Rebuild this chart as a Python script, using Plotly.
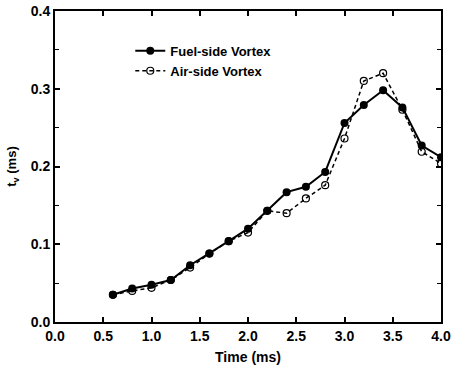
import plotly.graph_objects as go

time = [0.6, 0.8, 1.0, 1.2, 1.4, 1.6, 1.8, 2.0, 2.2, 2.4, 2.6, 2.8, 3.0, 3.2, 3.4, 3.6, 3.8, 4.0]
fuel_side = [0.035, 0.043, 0.048, 0.054, 0.073, 0.088, 0.104, 0.120, 0.143, 0.167, 0.174, 0.193, 0.256, 0.279, 0.298, 0.276, 0.227, 0.212]
air_side = [0.035, 0.040, 0.044, 0.054, 0.070, 0.088, 0.104, 0.115, 0.143, 0.140, 0.159, 0.176, 0.236, 0.310, 0.320, 0.273, 0.219, 0.204]

FONT = "Liberation Sans, Arial, sans-serif"

fig = go.Figure()
fig.add_trace(go.Scatter(
    x=time, y=fuel_side, name="Fuel-side Vortex", mode="lines+markers",
    line=dict(color="black", width=2),
    marker=dict(symbol="circle", size=8, color="black"),
))
fig.add_trace(go.Scatter(
    x=time, y=air_side, name="Air-side Vortex", mode="lines+markers",
    line=dict(color="black", width=1.5, dash="4px,3px"),
    marker=dict(symbol="circle-open", size=7, color="black", line=dict(width=1.2)),
))

fig.update_layout(
    width=452, height=369,
    margin=dict(l=55, r=11, t=11, b=47),
    paper_bgcolor="white", plot_bgcolor="white",
    font=dict(family=FONT, size=14, color="black"),
    showlegend=True,
    legend=dict(x=0.195, y=0.92, xanchor="left", yanchor="top",
                bgcolor="rgba(0,0,0,0)",
                font=dict(size=13, family=FONT, weight="bold"),
                tracegroupgap=0),
)
fig.update_xaxes(
    range=[0, 4], tickmode="linear", tick0=0, dtick=0.5, tickformat=".1f",
    tickfont=dict(size=14, weight="bold"), automargin=False,
    ticks="inside", ticklen=5, tickwidth=1.5, tickcolor="black",
    showline=True, linecolor="black", linewidth=2, mirror="ticks",
    showgrid=False, zeroline=False,
    title=dict(text="Time (ms)", font=dict(size=14, weight="bold"), standoff=9),
)
fig.update_yaxes(
    range=[0, 0.4], tickmode="linear", tick0=0, dtick=0.1, tickformat=".1f",
    tickfont=dict(size=14, weight="bold"), automargin=False,
    ticks="inside", ticklen=5, tickwidth=1.5, tickcolor="black",
    minor=dict(dtick=0.05, ticks="inside", ticklen=4, tickwidth=1.2,
               tickcolor="black", showgrid=False),
    showline=True, linecolor="black", linewidth=2, mirror="ticks",
    showgrid=False, zeroline=False,
    title=dict(text="t<sub>v</sub> (ms)", font=dict(size=13, weight="bold"), standoff=11),
)

fig.write_html("out.html")
